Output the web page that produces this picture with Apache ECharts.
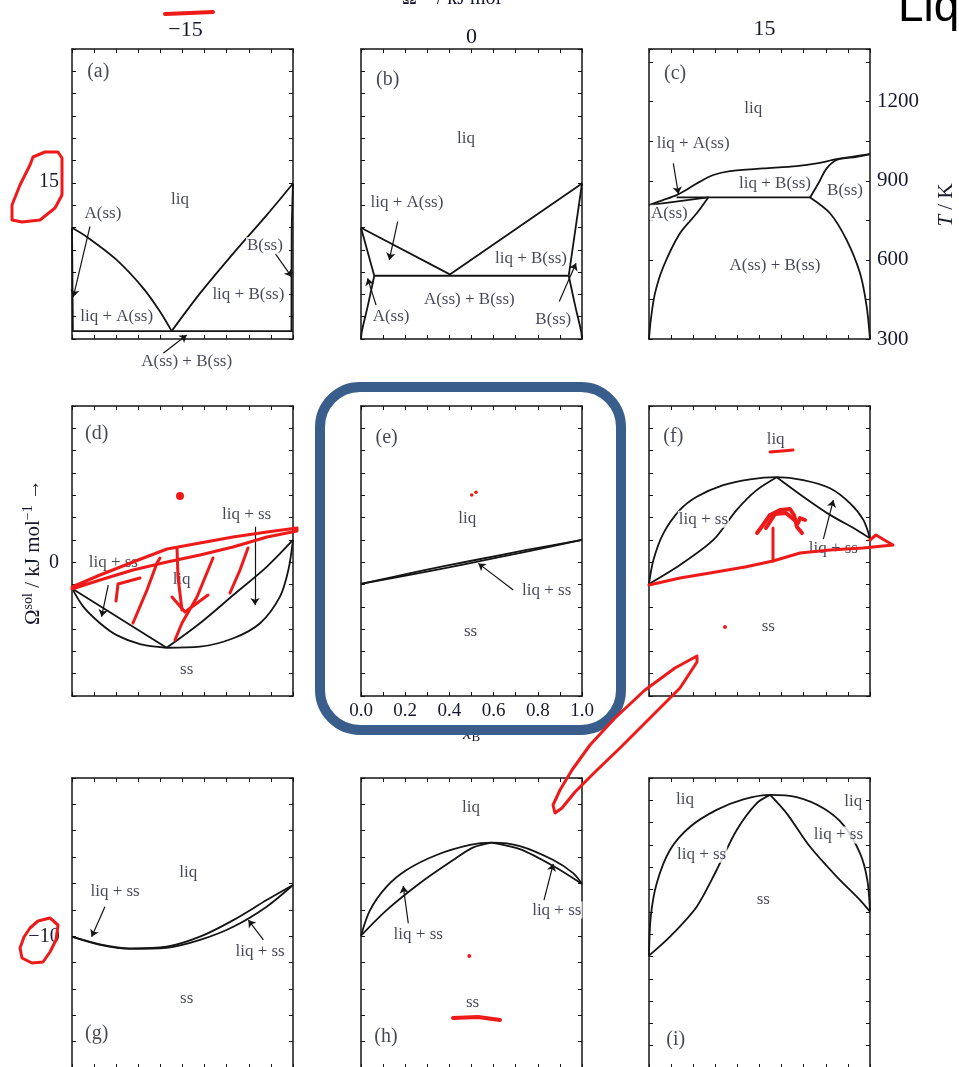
<!DOCTYPE html>
<html>
<head>
<meta charset="utf-8">
<script src="https://cdn.jsdelivr.net/npm/echarts@6/dist/echarts.min.js"></script>
<style>
  html, body { margin: 0; padding: 0; background: #ffffff; }
  #chart { width: 959px; height: 1067px; }
</style>
</head>
<body>
<div id="chart"></div>
<script>
// ---- axes ----------------------------------------------------------------
const xMin = 0, xMax = 1, xStep = 0.1, xLabelStep = 0.2;        // x_B
const tMin = 300, tMax = 1400, tStep = 150, tLabelStep = 300;  // T / K
const colHeaders = ['\u221215', '0', '15'];                     // Ω^liq / kJ mol^-1
const rowHeaders = ['15', '0', '\u221210'];                     // Ω^sol / kJ mol^-1
const panelTags = ['(a)', '(b)', '(c)', '(d)', '(e)', '(f)', '(g)', '(h)', '(i)'];
const panelTagAt = [[0.119, 1312], [0.121, 1285], [0.118, 1308],
                    [0.112, 1296], [0.116, 1281], [0.110, 1284],
                    [0.112, 429], [0.113, 419], [0.121, 406]];

// ---- (a) Ω^liq = -15, Ω^sol = 15 -----------------------------------------
const aLiqL = [[0, 722], [0.066, 688], [0.202, 600], [0.323, 492], [0.398, 404], [0.451, 330]];
const aLiqR = [[0.451, 330], [0.579, 473], [0.730, 625], [0.881, 770], [1, 890]];
const aEut = [[0, 330], [1, 330]];
const aSolA = [[0, 722], [0.004, 330]];
const aSolB = [[1, 890], [0.994, 700], [0.993, 330]];
const aLabels = [[0.489, 830, 'liq'], [0.140, 777, 'A(ss)'], [0.202, 385, 'liq + A(ss)'],
                 [0.873, 654, 'B(ss)'], [0.798, 467, 'liq + B(ss)'], [0.519, 214, 'A(ss) + B(ss)']];
const aArrows = [[0.081, 726, 0.006, 460], [0.919, 625, 0.994, 536], [0.413, 246, 0.519, 315]];

// ---- (b) Ω^liq = 0, Ω^sol = 15 -------------------------------------------
const bLiq = [[0, 722], [0.402, 545], [1, 890]];
const bEut = [[0.06, 540], [0.94, 540]];
const bSolidusA = [[0, 722], [0.06, 540]];
const bSolvusA = [[0.06, 540], [0.03, 423], [0.004, 330], [0, 300]];
const bSolidusB = [[1, 890], [0.94, 540]];
const bSolvusB = [[0.94, 540], [0.97, 423], [0.996, 330], [1, 300]];
const bLabels = [[0.475, 1061, 'liq'], [0.208, 817, 'liq + A(ss)'], [0.136, 385, 'A(ss)'],
                 [0.870, 372, 'B(ss)'], [0.769, 606, 'liq + B(ss)'], [0.490, 448, 'A(ss) + B(ss)']];
const bArrows = [[0.166, 745, 0.128, 600], [0.068, 429, 0.030, 530], [0.897, 442, 0.973, 587]];

// ---- (c) Ω^liq = 15, Ω^sol = 15 ------------------------------------------
const cLiq = [[0, 808], [0.06, 826], [0.125, 846], [0.17, 866], [0.216, 890], [0.291, 922],
              [0.367, 937], [0.517, 947], [0.668, 956], [0.759, 966], [0.849, 982], [1, 1001]];
const cSolidusA = [[0, 808], [0.268, 837]];
const cEut = [[0.125, 837], [0.729, 837]];
const cSolvusA = [[0.268, 837], [0.216, 777], [0.14, 701], [0.065, 574], [0.027, 473], [0.008, 372], [0, 300]];
const cSolidusB = [[0.729, 837], [0.766, 890], [0.804, 947], [0.849, 979], [0.94, 991], [1, 1001]];
const cSolvusB = [[0.729, 837], [0.819, 777], [0.894, 676], [0.955, 549], [0.985, 423], [1, 300]];
const cLabels = [[0.472, 1175, 'liq'], [0.200, 1042, 'liq + A(ss)'], [0.570, 891, 'liq + B(ss)'],
                 [0.887, 865, 'B(ss)'], [0.092, 777, 'A(ss)'], [0.570, 577, 'A(ss) + B(ss)']];
const cArrows = [[0.110, 966, 0.133, 850]];

// ---- (d) Ω^liq = -15, Ω^sol = 0 ------------------------------------------
const dSolL = [[0, 708], [0.051, 639], [0.127, 576], [0.202, 531], [0.308, 497], [0.428, 483]];
const dLiqL = [[0, 708], [0.428, 483]];
const dLiqR = [[0.428, 483], [0.579, 576], [0.73, 683], [0.881, 790], [1, 892]];
const dSolR = [[0.428, 483], [0.579, 487], [0.73, 519], [0.851, 576], [0.941, 677], [0.979, 778], [1, 892]];
const dLabels = [[0.790, 987, 'liq + ss'], [0.187, 806, 'liq + ss'], [0.496, 743, 'liq'], [0.519, 399, 'ss']];
const dArrows = [[0.828, 942, 0.828, 645], [0.164, 721, 0.134, 601]];

// ---- (e) Ω^liq = 0, Ω^sol = 0 --------------------------------------------
const eLiq = [[0, 725], [0.25, 771], [0.5, 813], [0.75, 854], [1, 892]];
const eSol = [[0, 725], [0.25, 764], [0.5, 805], [0.75, 848], [1, 892]];
const eLabels = [[0.481, 974, 'liq'], [0.496, 544, 'ss'], [0.840, 699, 'liq + ss']];
const eArrows = [[0.689, 702, 0.531, 803]];

// ---- (f) Ω^liq = 15, Ω^sol = 0 -------------------------------------------
const fLiq = [[0, 725], [0.02, 816], [0.065, 917], [0.14, 1006], [0.216, 1056], [0.336, 1100], [0.457, 1122],
              [0.578, 1130], [0.698, 1119], [0.819, 1088], [0.91, 1031], [0.97, 968], [1, 898]];
const fSolL = [[0, 725], [0.14, 797], [0.291, 892], [0.397, 1006], [0.487, 1081], [0.578, 1130]];
const fSolR = [[0.578, 1130], [0.698, 1056], [0.819, 987], [0.94, 930], [1, 898]];
const fLabels = [[0.573, 1274, 'liq'], [0.246, 970, 'liq + ss'], [0.834, 860, 'liq + ss'], [0.540, 563, 'ss']];
const fArrows = [[0.789, 895, 0.834, 1043]];

// ---- (g) Ω^liq = -15, Ω^sol = -10 ----------------------------------------
const gLiq = [[0, 798], [0.127, 769], [0.262, 754], [0.428, 760], [0.579, 798], [0.73, 861], [0.881, 937], [1, 994]];
const gSol = [[0, 798], [0.127, 767], [0.262, 752], [0.428, 756], [0.579, 786], [0.73, 836], [0.881, 912], [1, 994]];
const gLabels = [[0.195, 969, 'liq + ss'], [0.526, 1041, 'liq'], [0.851, 741, 'liq + ss'], [0.519, 564, 'ss']];
const gArrows = [[0.149, 912, 0.089, 798], [0.866, 786, 0.798, 861]];

// ---- (h) Ω^liq = 0, Ω^sol = -10 ------------------------------------------
const hLiq = [[0, 802], [0.041, 899], [0.116, 988], [0.206, 1051], [0.342, 1108], [0.493, 1146],
              [0.591, 1155], [0.719, 1142], [0.87, 1089], [0.96, 1039], [1, 998]];
const hSolL = [[0, 802], [0.116, 899], [0.266, 1001], [0.417, 1089], [0.508, 1137], [0.591, 1155]];
const hSolR = [[0.591, 1155], [0.719, 1130], [0.87, 1066], [1, 998]];
const hLabels = [[0.498, 1289, 'liq'], [0.259, 808, 'liq + ss'], [0.886, 899, 'liq + ss'], [0.505, 548, 'ss']];
const hArrows = [[0.214, 849, 0.191, 990], [0.828, 937, 0.870, 1074]];

// ---- (i) Ω^liq = 15, Ω^sol = -10 -----------------------------------------
const iLiq = [[0, 726], [0.008, 874], [0.035, 1001], [0.095, 1127], [0.186, 1215], [0.306, 1279], [0.427, 1319],
              [0.548, 1336], [0.668, 1327], [0.789, 1285], [0.879, 1222], [0.955, 1114], [0.988, 1013], [1, 893]];
const iSolL = [[0, 726], [0.095, 798], [0.216, 912], [0.306, 1051], [0.397, 1203], [0.487, 1304], [0.548, 1336]];
const iSolR = [[0.548, 1336], [0.623, 1266], [0.729, 1139], [0.849, 1026], [0.955, 937], [1, 893]];
const iLabels = [[0.163, 1319, 'liq'], [0.924, 1310, 'liq'], [0.238, 1111, 'liq + ss'],
                 [0.857, 1184, 'liq + ss'], [0.517, 940, 'ss']];
const iArrows = [];

// ---- panel set-up --------------------------------------------------------
const CURVE = 0.3, STRAIGHT = 0;
const panels = [
  { row: 0, col: 0, sideTicks: 13, curves: [[aLiqL, CURVE], [aLiqR, CURVE], [aEut, STRAIGHT], [aSolA, STRAIGHT], [aSolB, CURVE]], labels: aLabels, arrows: aArrows },
  { row: 0, col: 1, sideTicks: 13, curves: [[bLiq, STRAIGHT], [bEut, STRAIGHT], [bSolidusA, STRAIGHT], [bSolvusA, CURVE], [bSolidusB, STRAIGHT], [bSolvusB, CURVE]], labels: bLabels, arrows: bArrows },
  { row: 0, col: 2, sideTicks: 0, curves: [[cLiq, CURVE], [cSolidusA, STRAIGHT], [cEut, STRAIGHT], [cSolvusA, CURVE], [cSolidusB, CURVE], [cSolvusB, CURVE]], labels: cLabels, arrows: cArrows },
  { row: 1, col: 0, sideTicks: 13, curves: [[dSolL, CURVE], [dLiqL, STRAIGHT], [dLiqR, CURVE], [dSolR, CURVE]], labels: dLabels, arrows: dArrows },
  { row: 1, col: 1, sideTicks: 13, curves: [[eLiq, CURVE], [eSol, CURVE]], labels: eLabels, arrows: eArrows },
  { row: 1, col: 2, sideTicks: 13, curves: [[fLiq, CURVE], [fSolL, CURVE], [fSolR, CURVE]], labels: fLabels, arrows: fArrows },
  { row: 2, col: 0, sideTicks: 11, curves: [[gLiq, CURVE], [gSol, CURVE]], labels: gLabels, arrows: gArrows },
  { row: 2, col: 1, sideTicks: 11, curves: [[hLiq, CURVE], [hSolL, CURVE], [hSolR, CURVE]], labels: hLabels, arrows: hArrows },
  { row: 2, col: 2, sideTicks: 13, curves: [[iLiq, CURVE], [iSolL, CURVE], [iSolR, CURVE]], labels: iLabels, arrows: iArrows }
];

const rowTop = [49, 406, 778];
const colLeft = [72, 361, 649];
const panelW = 221, panelH = 290;

const INK = '#141414';
const TEXT = '#15192e';
const SERIF = '"Liberation Serif", "DejaVu Serif", serif';
const RED = '#ee1a1a';

const grids = [], xAxes = [], yAxes = [], series = [];

const frameLine = { show: true, onZero: false, lineStyle: { color: INK, width: 1.5 } };
const innerTick = len => ({ show: true, inside: true, length: len, lineStyle: { color: INK, width: 1 } });

panels.forEach((p, i) => {
  grids.push({
    left: colLeft[p.col], top: rowTop[p.row], width: panelW, height: panelH,
    containLabel: false, outerBoundsMode: 'none', show: false
  });
  const isE = i === 4;
  const isC = i === 2;
  // bottom and top composition axes
  xAxes.push({
    type: 'value', gridIndex: i, position: 'bottom', min: xMin, max: xMax, interval: xStep,
    axisLine: frameLine, axisTick: innerTick(4), splitLine: { show: false },
    axisLabel: {
      show: isE, margin: 6, color: TEXT, fontFamily: SERIF, fontSize: 19,
      showMinLabel: true, showMaxLabel: true,
      formatter: v => (Math.round(v * 10) % Math.round(xLabelStep * 10) === 0 ? v.toFixed(1) : '')
    },
    name: isE ? '{x|x}{b|B}' : '', nameLocation: 'middle', nameGap: 27,
    nameTextStyle: { rich: { x: { fontFamily: SERIF, fontStyle: 'italic', fontSize: 19, color: TEXT },
                             b: { fontFamily: SERIF, fontSize: 13, color: TEXT, verticalAlign: 'bottom', padding: [8, 0, 0, 0] } } }
  });
  xAxes.push({
    type: 'value', gridIndex: i, position: 'top', min: xMin, max: xMax, interval: xStep,
    axisLine: frameLine, axisTick: innerTick(4), splitLine: { show: false }, axisLabel: { show: false }
  });
  // temperature axis carrying the data
  yAxes.push({ type: 'value', gridIndex: i, position: 'left', min: tMin, max: tMax, show: false });
  // frame ticks on the sides
  const side = p.sideTicks
    ? { min: 0, max: p.sideTicks, interval: 1 }
    : { min: tMin, max: tMax, interval: tStep };
  yAxes.push(Object.assign({
    type: 'value', gridIndex: i, position: 'left',
    axisLine: frameLine, axisTick: innerTick(4), splitLine: { show: false }, axisLabel: { show: false }
  }, side));
  yAxes.push(Object.assign({
    type: 'value', gridIndex: i, position: 'right',
    axisLine: frameLine, axisTick: innerTick(4), splitLine: { show: false },
    axisLabel: {
      show: isC, margin: 7, color: TEXT, fontFamily: SERIF, fontSize: 21,
      showMinLabel: true, showMaxLabel: true,
      formatter: v => (v % tLabelStep === 0 ? String(v) : '')
    }
  }, side));

  const xi = 2 * i, yi = 3 * i;
  p.curves.forEach(([pts, sm]) => {
    series.push({
      type: 'line', xAxisIndex: xi, yAxisIndex: yi, data: pts, smooth: sm,
      symbol: 'none', showSymbol: false, silent: true, clip: false, z: 3,
      lineStyle: { color: INK, width: 1.8 }
    });
  });
  if (p.arrows.length) {
    series.push({
      type: 'lines', coordinateSystem: 'cartesian2d', xAxisIndex: xi, yAxisIndex: yi,
      clip: false, silent: true, z: 4, symbol: ['none', 'arrow'], symbolSize: 7,
      lineStyle: { color: INK, width: 1.2, opacity: 1, curveness: 0 },
      data: p.arrows.map(a => ({ coords: [[a[0], a[1]], [a[2], a[3]]] }))
    });
  }
  series.push({
    type: 'scatter', xAxisIndex: xi, yAxisIndex: yi, clip: false, silent: true, z: 6,
    symbol: 'circle', symbolSize: 1, itemStyle: { color: 'rgba(0,0,0,0)' },
    data: p.labels.map(l => ({ value: [l[0], l[1]], name: l[2] })),
    label: {
      show: true, position: 'inside', formatter: '{b}', color: TEXT,
      fontFamily: SERIF, fontSize: 17, backgroundColor: '#ffffff', padding: [0, 1]
    }
  });
  series.push({
    type: 'scatter', xAxisIndex: xi, yAxisIndex: yi, clip: false, silent: true, z: 6,
    symbol: 'circle', symbolSize: 1, itemStyle: { color: 'rgba(0,0,0,0)' },
    data: [{ value: panelTagAt[i], name: panelTags[i] }],
    label: { show: true, position: 'inside', formatter: '{b}', color: TEXT, fontFamily: SERIF, fontSize: 20 }
  });
});

// ---- free text around the grid ---------------------------------------------
function text(x, y, str, size, extra) {
  return {
    type: 'text', x: x, y: y, z: 50, silent: true,
    style: Object.assign({
      text: str, fill: TEXT, fontFamily: SERIF, fontSize: size,
      textAlign: 'center', textVerticalAlign: 'middle'
    }, extra || {})
  };
}
const supRich = { s: { fontFamily: SERIF, fontSize: 14, fill: TEXT, verticalAlign: 'top', lineHeight: 23 } };
const topRich = {
  m: { fontFamily: SERIF, fontSize: 20, fill: TEXT, verticalAlign: 'bottom', lineHeight: 24 },
  s: { fontFamily: SERIF, fontSize: 14, fill: TEXT, verticalAlign: 'top', lineHeight: 24 }
};

const graphics = [
  // column headers (Ω^liq) and row headers (Ω^sol)
  text(colLeft[0] + panelW / 2 + 3, 30, colHeaders[0], 22),
  text(colLeft[1] + panelW / 2, 37, colHeaders[1], 22),
  text(colLeft[2] + panelW / 2 + 5, 29, colHeaders[2], 22),
  text(49, 182, rowHeaders[0], 20),
  text(54, 563, rowHeaders[1], 20),
  text(44, 937, rowHeaders[2], 20),
  // top title, running off the upper page edge
  text(402, 9, '{m|Ω}{s|liq}{m| / kJ mol}{s|\u22121}', 20, { textAlign: 'left', textVerticalAlign: 'bottom', rich: topRich }),
  // left title
  Object.assign(text(33, 552, 'Ω{s|sol} / kJ mol{s|\u22121} \u2192', 21, { rich: supRich }), { rotation: Math.PI / 2 }),
  // right title
  Object.assign(text(946, 205, '{t|T} / K', 21, { rich: { t: { fontFamily: SERIF, fontStyle: 'italic', fontSize: 21, fill: TEXT } } }), { rotation: Math.PI / 2 }),
  // heading at the top right corner
  { type: 'text', x: 898, y: -15, z: 50, silent: true,
    style: { text: 'Liq', fill: '#000000', fontFamily: '"Liberation Sans", Arial, sans-serif', fontSize: 46, textAlign: 'left', textVerticalAlign: 'top' } },

  // frame around panel (e)
  { type: 'rect', z: 80, silent: true,
    shape: { x: 320, y: 387, width: 301, height: 343, r: 40 },
    style: { fill: 'none', stroke: '#3a5e8c', lineWidth: 10 } }
];

// hand-drawn red markup
function stroke(points, w) {
  return { type: 'polyline', z: 90, silent: true, shape: { points: points },
           style: { fill: 'none', stroke: RED, lineWidth: w || 3, lineCap: 'round', lineJoin: 'round' } };
}
function dot(cx, cy, r) {
  return { type: 'circle', z: 90, silent: true, shape: { cx: cx, cy: cy, r: r }, style: { fill: RED } };
}
graphics.push(
  stroke([[165, 14], [190, 13], [213, 12]], 4),
  stroke([[33, 157], [45, 152], [58, 152], [62, 158], [62, 195], [55, 208], [40, 220], [22, 222], [12, 220], [12, 205], [20, 185], [30, 165], [33, 157]], 3),
  stroke([[50, 918], [58, 925], [56, 940], [50, 952], [43, 962], [32, 963], [22, 958], [20, 948], [24, 937], [30, 928], [38, 921], [50, 918]], 3),
  // panel (d)
  stroke([[72, 587], [100, 575], [133, 562], [167, 549], [200, 543], [233, 537], [267, 532], [297, 528],
          [297, 531], [267, 537], [233, 547], [200, 555], [167, 562], [133, 570], [100, 580], [72, 589]], 3),
  stroke([[116, 601], [118, 584], [140, 578]], 3),
  stroke([[133, 623], [147, 590], [157, 563], [160, 558]], 3),
  stroke([[177, 548], [178, 577], [182, 610]], 3),
  stroke([[172, 597], [185, 612], [208, 595]], 3),
  stroke([[175, 640], [182, 623], [197, 597], [213, 558]], 3),
  stroke([[230, 593], [240, 570], [248, 548]], 3),
  dot(180, 496, 4),
  // panel (e)
  dot(471.7, 495, 1.8), dot(476, 492.3, 1.8),
  // panel (f)
  stroke([[770, 452], [782, 451], [793, 450]], 3),
  stroke([[649, 585], [680, 578], [710, 573], [745, 567], [773, 561], [800, 553], [830, 550], [863, 548], [893, 545],
          [886, 541], [876, 535], [870, 540]], 3),
  stroke([[773, 561], [773, 528]], 3),
  stroke([[757, 533], [763, 525], [770, 515], [780, 510], [790, 509], [794, 515], [797, 527], [802, 533]], 4),
  stroke([[766, 528], [775, 514], [786, 513], [798, 523], [800, 518], [805, 520]], 4),
  dot(725, 627, 2),
  stroke([[697, 656], [675, 668], [645, 690], [615, 718], [590, 745], [572, 770], [560, 790], [553, 805], [555, 813],
          [562, 808], [575, 792], [595, 772], [620, 748], [650, 718], [680, 688], [697, 662], [697, 656]], 3),
  // panel (h)
  dot(469.3, 956, 2),
  stroke([[453, 1018], [478, 1017], [500, 1020]], 4)
);

const chart = echarts.init(document.getElementById('chart'), null, { renderer: 'canvas' });
chart.setOption({
  animation: false,
  backgroundColor: '#ffffff',
  grid: grids,
  xAxis: xAxes,
  yAxis: yAxes,
  series: series,
  graphic: graphics
});
</script>
</body>
</html>
